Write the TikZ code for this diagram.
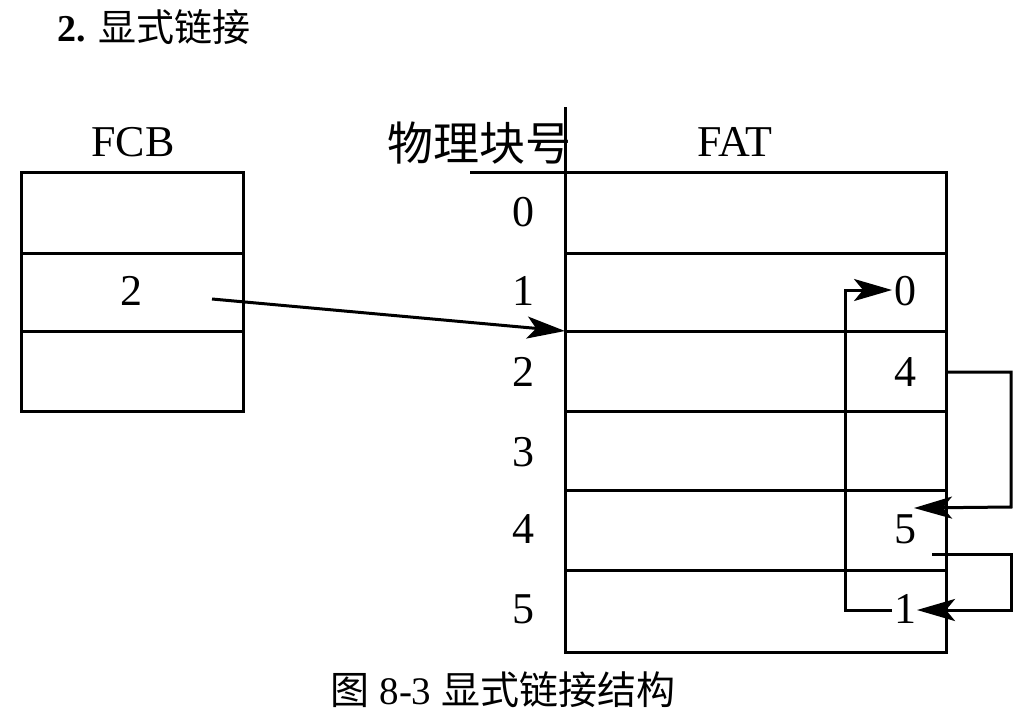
\documentclass[tikz,border=0pt]{standalone}
\usepackage{fontspec}
\setmainfont{Liberation Serif}
\newfontfamily\cjk{Noto Sans CJK SC}
\usetikzlibrary{arrows.meta}
\begin{document}
\begin{tikzpicture}[x=1pt,y=-1pt, line width=3pt,
  lbl/.style={inner sep=0pt, font=\fontsize{44}{48}\selectfont},
  arr/.style={-{Stealth[length=38pt,width=22pt,inset=9pt]}}]
\useasboundingbox (0,0) rectangle (1032,723);
% title
\node[anchor=west, inner sep=0pt, font=\fontsize{38}{42}\selectfont] (title) at (56,27) {\textbf{2.} \cjk 显式链接};
% caption
\node[inner sep=0pt, font=\fontsize{39}{44}\selectfont] (caption) at (503,690) {{\cjk 图} 8-3 {\cjk 显式链接结构}};
% FCB table
\draw (21,172) rectangle (243,411);
\draw (21,253) -- (243,253);
\draw (21,331) -- (243,331);
\node[lbl] (fcb) at (133,142) {FCB};
\node[lbl] (fcb2) at (131,291) {2};
% FAT table
\draw (565,107) -- (565,652) -- (946,652) -- (946,172) -- (470,172);
\foreach \y in {253,331,411,490,570} \draw (565,\y) -- (946,\y);
\node[inner sep=0pt, font=\fontsize{46}{50}\selectfont\cjk] (phys) at (479,143) {物理块号};
\node[lbl] (fat) at (735,142) {FAT};
\node[lbl] (n0) at (523,212) {0};
\node[lbl] (n1) at (523,291) {1};
\node[lbl] (n2) at (523,372) {2};
\node[lbl] (n3) at (523,452) {3};
\node[lbl] (n4) at (523,529) {4};
\node[lbl] (n5) at (523,609) {5};
\node[lbl] (v1) at (905,291) {0};
\node[lbl] (v2) at (905,372) {4};
\node[lbl] (v4) at (905,529) {5};
\node[lbl] (v5) at (905,609) {1};
% connectors
\coordinate (fcbstart) at (212,299);
\coordinate (blk2) at (565,331);
\draw[arr] (fcbstart) -- (blk2);
\coordinate (a1) at (946,372);
\coordinate (a1t) at (914,508);
\draw[arr] (a1) -- (1011,372) -- (1011,507) -- (a1t);
\coordinate (b1) at (932,554);
\coordinate (b1t) at (917,610);
\draw[arr] (b1) -- (1011,554) -- (1011,610) -- (b1t);
\coordinate (c1) at (892,610);
\coordinate (c1t) at (892,290);
\draw[arr] (c1) -- (845,610) -- (845,290) -- (c1t);
\end{tikzpicture}
\end{document}
